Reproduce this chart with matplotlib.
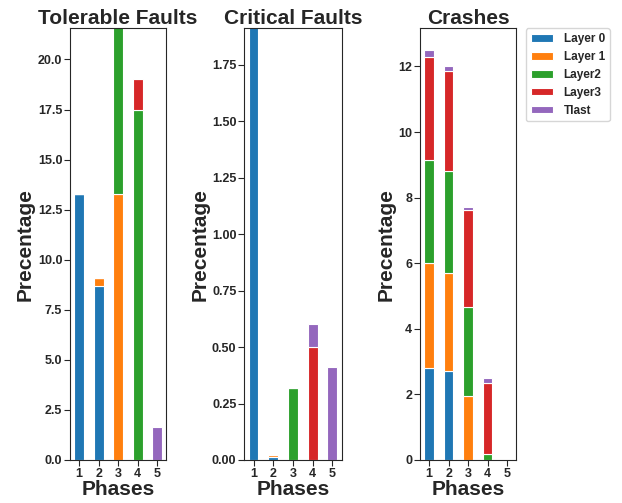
import matplotlib
matplotlib.use("Agg")
import matplotlib.pyplot as plt
import numpy as np
import seaborn as sns

sns.set_style("ticks")
plt.rcParams['font.family'] = ['Liberation Sans', 'DejaVu Sans']
plt.rcParams['font.weight'] = 'bold'

phases = [1, 2, 3, 4, 5]
layers = ['Layer 0', 'Layer 1', 'Layer2', 'Layer3', 'Tlast']
colors = ['#1f77b4', '#ff7f0e', '#2ca02c', '#d62728', '#9467bd']

# percentage per phase, one list per layer
tolerable = [
    [13.3, 8.7, 0.0, 0.0, 0.0],
    [0.0, 0.4, 13.3, 0.0, 0.0],
    [0.0, 0.0, 9.0, 17.5, 0.0],
    [0.0, 0.0, 0.0, 1.5, 0.0],
    [0.0, 0.0, 0.0, 0.0, 1.65],
]
critical = [
    [2.1, 0.015, 0.0, 0.0, 0.0],
    [0.0, 0.005, 0.0, 0.0, 0.0],
    [0.0, 0.0, 0.32, 0.0, 0.0],
    [0.0, 0.0, 0.0, 0.50, 0.0],
    [0.0, 0.0, 0.0, 0.10, 0.41],
]
crashes = [
    [2.8, 2.7, 0.0, 0.0, 0.0],
    [3.2, 3.0, 1.95, 0.0, 0.0],
    [3.15, 3.1, 2.7, 0.17, 0.0],
    [3.13, 3.05, 2.97, 2.17, 0.0],
    [0.22, 0.17, 0.1, 0.16, 0.0],
]

panels = [
    ("Tolerable Faults", tolerable, 21.55, [0.1125, 0.0855, 0.155, 0.858]),
    ("Critical Faults", critical, 1.91, [0.3925, 0.0855, 0.157, 0.858]),
    ("Crashes", crashes, 13.16, [0.675, 0.0855, 0.155, 0.858]),
]

fig = plt.figure(figsize=(6.22, 5.03), dpi=100)

for title, data, ytop, pos in panels:
    ax = fig.add_axes(pos)
    bottom = np.zeros(len(phases))
    for i, vals in enumerate(data):
        ax.bar(phases, vals, width=0.5, bottom=bottom, color=colors[i],
               edgecolor='white', linewidth=0.8, label=layers[i])
        bottom += np.array(vals)
    ax.set_ylim(0, ytop)
    ax.set_xticks(phases)
    ax.set_title(title, fontsize=15, fontweight='bold', pad=3)
    ax.set_ylabel("Precentage", fontsize=15, fontweight='bold', labelpad=2)
    ax.set_xlabel("Phases", fontsize=15, fontweight='bold', labelpad=0)
    ax.tick_params(labelsize=9, length=4, pad=1.5)
    for lab in ax.get_xticklabels() + ax.get_yticklabels():
        lab.set_fontweight('bold')

ax.legend(loc='upper left', bbox_to_anchor=(1.1, 1.0),
          prop={'weight': 'bold', 'size': 8.5}, handlelength=1.9,
          handleheight=0.6, labelspacing=0.5, handletextpad=0.9,
          borderaxespad=0)

fig.savefig("out.png", dpi=100)
